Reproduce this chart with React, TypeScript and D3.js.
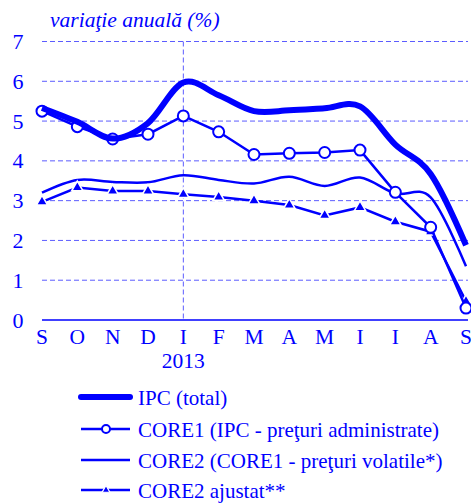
import React from "react";
import * as d3 from "d3";

const months = ["S", "O", "N", "D", "I", "F", "M", "A", "M", "I", "I", "A", "S"];
const yTicks = [0, 1, 2, 3, 4, 5, 6, 7];
const ipc = [5.33, 4.98, 4.56, 4.95, 5.97, 5.65, 5.25, 5.27, 5.32, 5.37, 4.41, 3.67, 1.88];
const core1 = [5.25, 4.86, 4.55, 4.67, 5.13, 4.73, 4.16, 4.19, 4.21, 4.27, 3.21, 2.33, 0.3];
const core2 = [3.2, 3.52, 3.47, 3.46, 3.64, 3.52, 3.43, 3.6, 3.37, 3.58, 3.18, 3.08, 1.35];
const core2adj = [2.97, 3.33, 3.24, 3.24, 3.16, 3.09, 3.0, 2.89, 2.63, 2.83, 2.47, 2.22, 0.47];
const legendLabels = [
  "IPC (total)",
  "CORE1 (IPC - preţuri administrate)",
  "CORE2 (CORE1 - preţuri volatile*)",
  "CORE2 ajustat**",
];

const BLUE = "#0000ff";
const GRID = "#5c5cff";

export default function App() {
  const x = d3.scaleLinear().domain([0, months.length - 1]).range([42, 466]);
  const y = d3.scaleLinear().domain([0, 7]).range([320, 41.5]);
  const idx = months.map((_, i) => i);

  const smooth = d3
    .line<number>()
    .x((i) => x(i))
    .curve(d3.curveCatmullRom.alpha(0));
  const straight = d3.line<number>().x((i) => x(i));

  const ipcPath = smooth.y((i) => y(ipc[i]))(idx) || "";
  const core2Path = smooth.y((i) => y(core2[i]))(idx) || "";
  const core1Path = straight.y((i) => y(core1[i]))(idx) || "";
  const adjPath = straight.y((i) => y(core2adj[i]))(idx) || "";
  const tri = d3.symbol().type(d3.symbolTriangle).size(55)() || "";
  const triSmall = d3.symbol().type(d3.symbolTriangle).size(26)() || "";

  const font = "'Liberation Serif', 'Times New Roman', serif";
  const legendY = [397, 429, 460, 490];

  return (
    <svg width={471} height={504} style={{ position: "absolute", left: 0, top: 0 }} fontFamily={font}>
      <rect width={471} height={504} fill="#fff" />
      <text x={50} y={27} fontSize={21.5} fontStyle="italic" fill={BLUE}>
        variaţie anuală (%)
      </text>
      {yTicks.filter((t) => t > 0).map((t) => (
        <line key={t} x1={42} x2={468} y1={y(t)} y2={y(t)} stroke={GRID} strokeWidth={1} strokeDasharray="5,3" />
      ))}
      <line x1={x(4)} x2={x(4)} y1={y(7)} y2={y(0)} stroke={GRID} strokeWidth={1} strokeDasharray="5,3" />
      <line x1={42} x2={468} y1={y(0)} y2={y(0)} stroke={BLUE} strokeWidth={1.5} />
      {yTicks.map((t) => (
        <text key={t} x={18} y={y(t) + 7.5} fontSize={22} textAnchor="middle" fill={BLUE}>
          {t}
        </text>
      ))}
      {months.map((m, i) => (
        <text key={i} x={x(i)} y={344} fontSize={21.5} textAnchor="middle" fill={BLUE}>
          {m}
        </text>
      ))}
      <text x={x(4)} y={368} fontSize={21.5} textAnchor="middle" fill={BLUE}>
        2013
      </text>

      <path d={core2Path} fill="none" stroke={BLUE} strokeWidth={2.5} />
      <path d={adjPath} fill="none" stroke={BLUE} strokeWidth={2.5} />
      {core2adj.map((v, i) => (
        <path key={i} d={tri} transform={`translate(${x(i)},${y(v)})`} fill={BLUE} stroke="#fff" strokeWidth={1.5} />
      ))}
      <path d={core1Path} fill="none" stroke={BLUE} strokeWidth={2.5} />
      {core1.map((v, i) => (
        <circle key={i} cx={x(i)} cy={y(v)} r={5.5} fill="#fff" stroke={BLUE} strokeWidth={2} />
      ))}
      <path d={ipcPath} fill="none" stroke={BLUE} strokeWidth={6} strokeLinejoin="round" />

      {legendLabels.map((l, i) => (
        <g key={i}>
          <line x1={81} x2={130} y1={legendY[i]} y2={legendY[i]} stroke={BLUE} strokeWidth={i === 0 ? 6 : 2.5} strokeLinecap={i === 0 ? "round" : "butt"} />
          {i === 1 && <circle cx={106} cy={legendY[i]} r={4} fill="#fff" stroke={BLUE} strokeWidth={2} />}
          {i === 3 && <path d={triSmall} transform={`translate(106,${legendY[i]})`} fill={BLUE} stroke="#fff" strokeWidth={1.2} />}
          <text x={138} y={legendY[i] + 7.5} fontSize={21} fill={BLUE}>
            {l}
          </text>
        </g>
      ))}
    </svg>
  );
}
